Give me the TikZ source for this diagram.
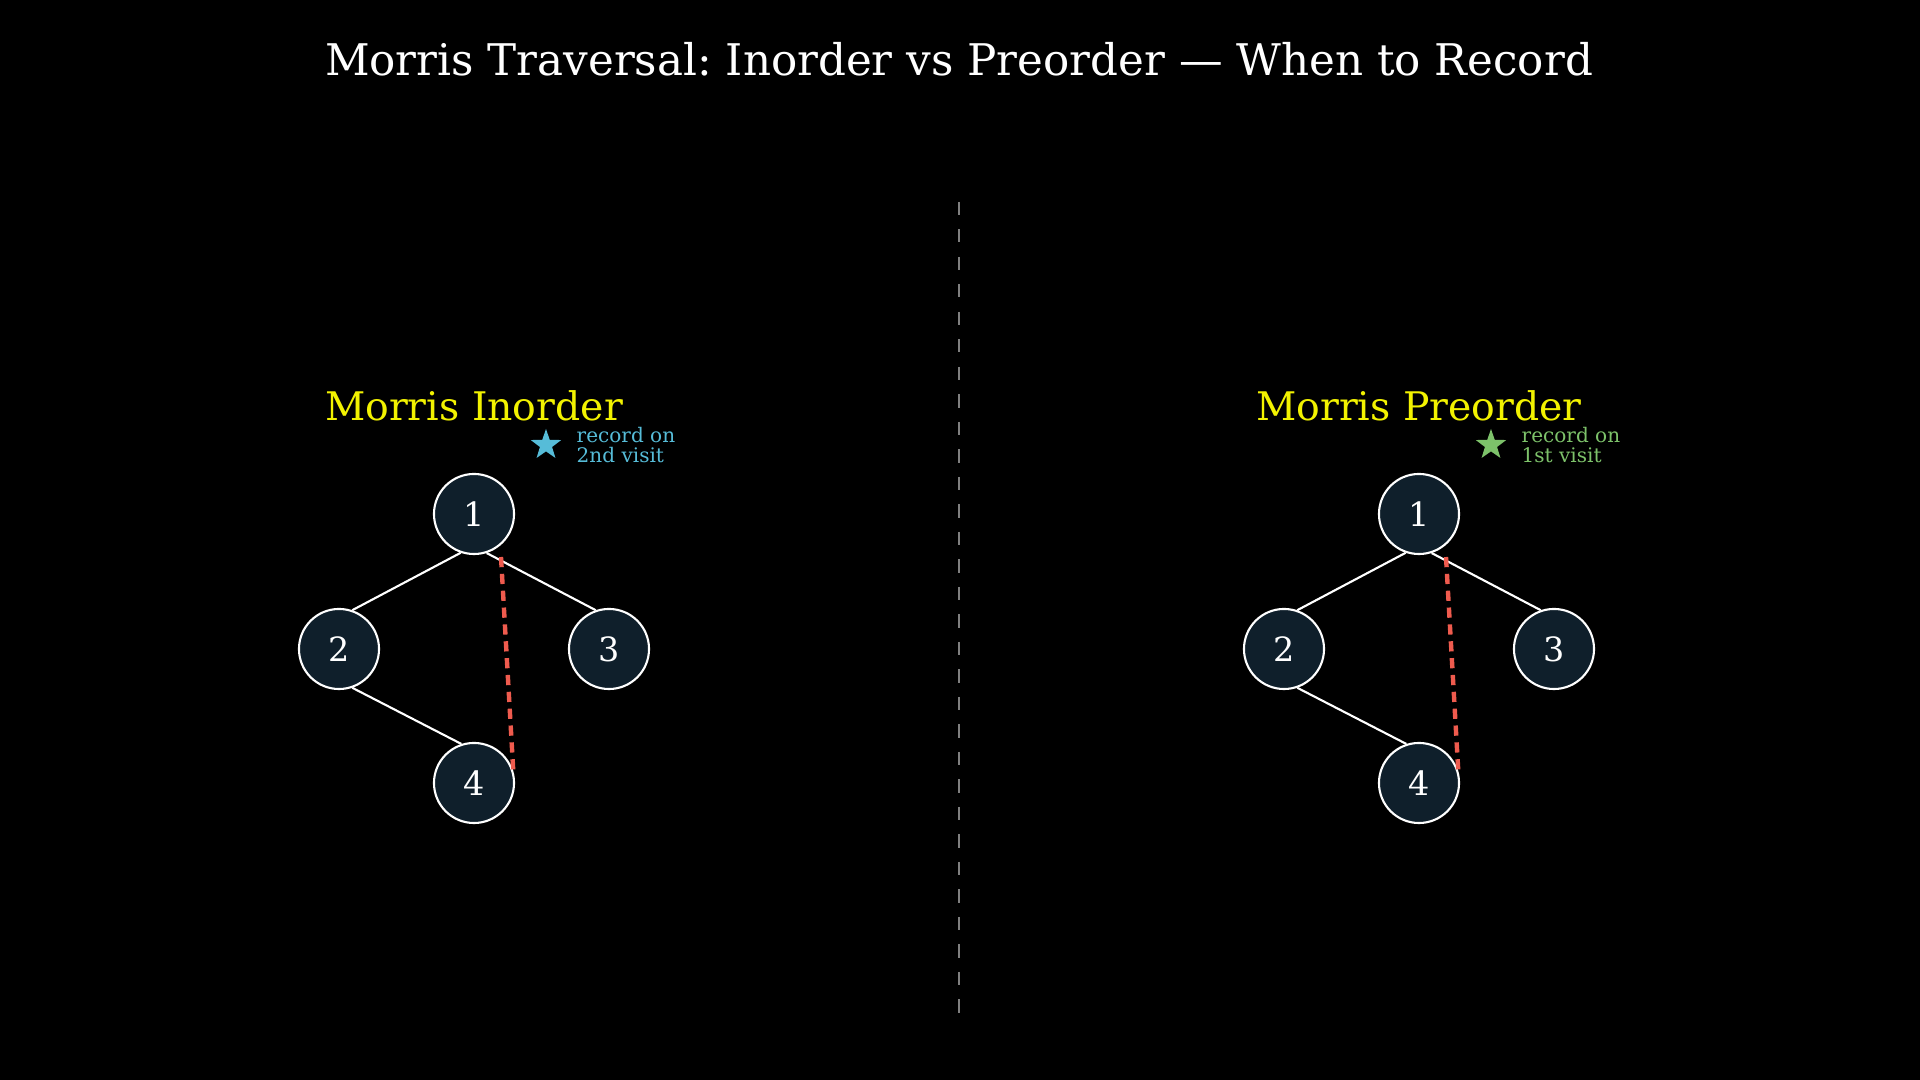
\documentclass[tikz,border=0pt]{standalone}
\usepackage{fontspec}
\setmainfont{DejaVu Serif}
\usetikzlibrary{shapes.geometric,calc}
\frenchspacing

\definecolor{nodefill}{HTML}{0F1F2B}
\definecolor{threadred}{HTML}{EF5B4E}
\definecolor{inordercyan}{HTML}{56BCD8}
\definecolor{preordergreen}{HTML}{7DC26A}
\definecolor{headyellow}{HTML}{F2F200}
\definecolor{sepgray}{HTML}{808080}

\begin{document}
\begin{tikzpicture}[
        x=0.01cm, y=-0.01cm,
        tree node/.style={circle, draw=white, fill=nodefill, line width=0.6pt, minimum size=0.8cm, inner sep=0pt, text=white, font=\fontsize{9.5}{11}\selectfont},
        tree edge/.style={draw=white, line width=0.6pt},
        thread/.style={draw=threadred, line width=1.25pt, dash pattern=on 2.9pt off 1.9pt},
        heading/.style={text=headyellow, font=\fontsize{11.2}{13}\selectfont},
        note star/.style={star, star points=5, star point ratio=2.5, minimum size=0.32cm, inner sep=0pt},
        note text/.style={align=left, anchor=west, inner sep=0pt, font=\fontsize{5.7}{5.7}\selectfont},
    ]

    % fond noir, taille de l'image
    \fill[black] (0,0) rectangle (1920,1080);

    % titre
    \node[text=white, font=\fontsize{12.4}{14}\selectfont] (title) at (959,59) {Morris Traversal: Inorder vs Preorder — When to Record};

    % ligne de séparation
    \draw[sepgray, line width=0.45pt, dash pattern=on 3.7pt off 4.12pt] (959,202) -- (959,1013);

    % les deux arbres
    \foreach \side/\dx/\heading/\visit/\clr in {in/0/Morris Inorder/2nd visit/inordercyan, pre/945/Morris Preorder/1st visit/preordergreen} {
        \node[heading] (\side-head) at (474+\dx,406) {\heading};
        \node[note star, fill=\clr] (\side-star) at (546+\dx,445) {};
        \node[note text, text=\clr] (\side-note) at (576+\dx,445) {record on\\\visit};

        % noeuds
        \node[tree node] (\side-1) at (474+\dx,514) {1};
        \node[tree node] (\side-2) at (339+\dx,649) {2};
        \node[tree node] (\side-3) at (609+\dx,649) {3};
        \node[tree node] (\side-4) at (474+\dx,783) {4};

        % arêtes
        \draw[tree edge] (\side-1.251) -- (\side-2.71);
        \draw[tree edge] (\side-1.288) -- (\side-3.109);
        \draw[tree edge] (\side-2.289) -- (\side-4.108);

        % lien de thread (4 -> 1)
        \draw[thread] ($(\side-1)+(27,43)$) -- (\side-4.17);
    }

\end{tikzpicture}
\end{document}
